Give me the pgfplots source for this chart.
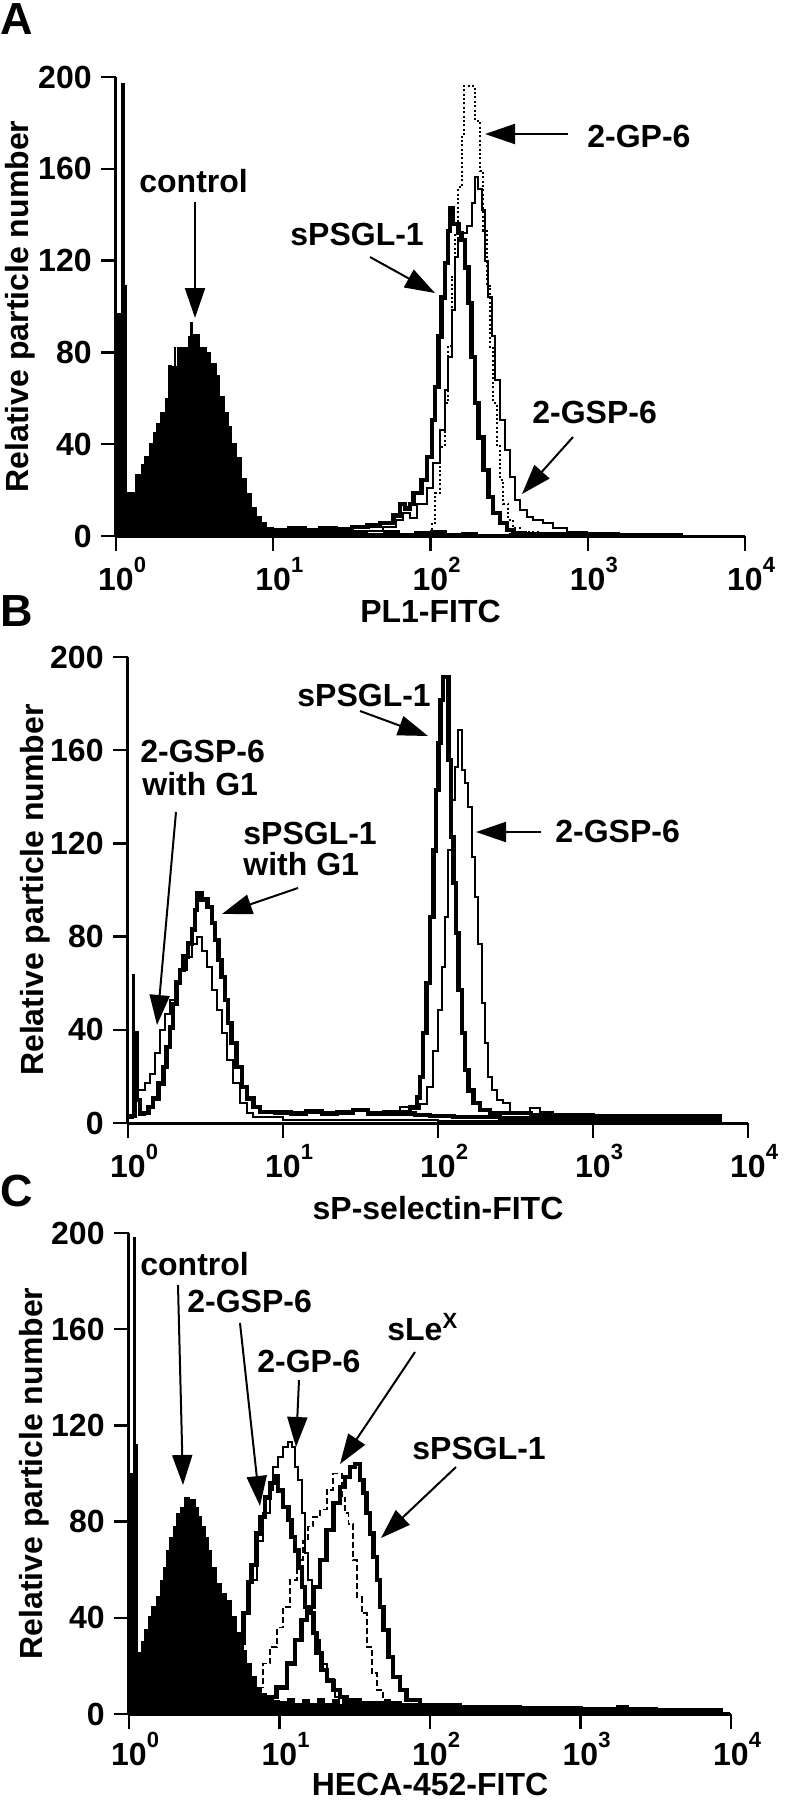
\documentclass[border=0pt]{standalone}
\usepackage{fontspec}
\setmainfont{Liberation Sans}
\usepackage{pgfplots}
\pgfplotsset{compat=1.18}
\usetikzlibrary{arrows.meta}

\newcommand\txt{\fontsize{16pt}{18pt}\selectfont\bfseries}
\newcommand\sps[1]{\rlap{\raisebox{9pt}{\fontsize{11pt}{11pt}\selectfont\bfseries #1}}}

\pgfplotsset{
  facs/.style={
    scale only axis, anchor=south west,
    xmin=0, xmax=4, ymin=0, ymax=200,
    axis lines=left, axis line style={-, line width=1.5pt},
    tick align=outside, major tick length=7.5pt,
    tick style={black, line width=1.2pt},
    xtick={0,1,2,3,4},
    xticklabels={10\sps{0},10\sps{1},10\sps{2},10\sps{3},10\sps{4}},
    ytick={0,40,80,120,160,200},
    yticklabels={0,40,80,120,160,200},
    tick label style={font=\txt, inner sep=0pt},
    xticklabel style={anchor=base, yshift=-19.5pt},
    yticklabel style={anchor=east, xshift=-4.5pt},
    label style={font=\txt},
    ylabel={Relative particle number},
    xlabel style={at={(axis description cs:0.5,0)}, anchor=base},
    ylabel style={at={(axis description cs:0,0.5)}, anchor=center},
    clip=false,
  },
  thickh/.style={const plot, black, line width=2.2pt},
  thinh/.style={const plot, black, line width=1pt},
}

\begin{document}
\begin{tikzpicture}
\useasboundingbox (0,0) rectangle (392pt,-900pt);

% ---------------- A ----------------
\begin{axis}[facs, at={(58pt,-268pt)}, width=314.5pt, height=229.5pt,
  xlabel={PL1-FITC}, xlabel style={yshift=-43pt}, ylabel style={yshift=48pt}]
% control
\addplot[const plot, fill=black, draw=black, line width=0.5pt] coordinates {
(0.000,97)(0.038,197)(0.057,109)(0.068,19)(0.121,26.6)(0.163,31)(0.184,34.5)
(0.216,40.5)(0.237,45)(0.259,49)(0.280,53.6)(0.312,60)(0.333,74.5)(0.354,74)
(0.370,82)(0.380,74)(0.390,82)(0.400,74)(0.407,82)(0.439,82)(0.460,87)(0.475,93)
(0.485,88)(0.502,87.6)(0.534,82)(0.577,80)(0.598,75)(0.640,70)(0.661,61)
(0.693,53.6)(0.714,47.5)(0.736,40.5)(0.767,34)(0.799,25)(0.831,18.7)(0.863,12.6)
(0.895,8.3)(0.927,6)(0.959,3.5)(1.000,1.7)(1.10,2.5)(1.20,1.5)(1.30,2.8)(1.40,1.8)
(1.50,2.2)(1.60,1.2)(1.70,2.5)(1.80,1.3)(1.90,1.8)(2.00,2.5)(2.10,1.2)(2.20,1.6)
(2.30,0.8)(2.50,1.0)(2.70,0.6)(3.00,0.5)(3.50,0.4)(3.99,0.3)} \closedcycle;
% sPSGL-1
\addplot[thickh] coordinates {
(0.90,2)(1.00,2.5)(1.10,3.5)(1.20,2.5)(1.30,3.5)(1.40,3)(1.50,4)(1.60,4.5)
(1.679,5.7)(1.764,9)(1.806,14)(1.838,12)(1.870,14)(1.891,18.7)(1.944,24.4)
(1.976,34.5)(2.008,50.5)(2.029,65)(2.050,87)(2.071,104)(2.092,119)(2.113,133)
(2.125,143)(2.145,136)(2.156,136)(2.177,132)(2.198,129)(2.219,117)(2.241,101.5)
(2.262,78)(2.283,58)(2.304,43)(2.336,28.8)(2.368,17)(2.399,10)(2.442,5.7)
(2.485,2.6)(2.527,1.3)(2.60,1)(2.80,0.8)(3.00,0.8)};
% 2-GSP-6
\addplot[thinh] coordinates {
(1.50,2)(1.70,4)(1.780,7)(1.827,10)(1.870,8)(1.912,14)(1.976,21)(2.018,31.8)
(2.060,46)(2.092,63.6)(2.113,78)(2.135,98.5)(2.156,121.6)(2.177,130)(2.198,132)
(2.230,135)(2.262,145)(2.283,156.5)(2.304,151)(2.326,142)(2.347,120)(2.368,104)
(2.389,87)(2.410,68)(2.442,50.5)(2.474,37.5)(2.506,25.7)(2.537,15.7)(2.569,11.3)
(2.612,8.3)(2.654,7)(2.717,5.7)(2.781,3.5)(2.866,1.7)(2.993,1.3)(3.20,0.8)(3.60,0.5)};
% 2-GP-6
\addplot[const plot, black, line width=1pt, dash pattern=on 1pt off 1.2pt] coordinates {
(1.90,0.5)(1.954,1)(2.008,5.7)(2.029,18.7)(2.060,39)(2.092,58)(2.113,83)
(2.135,113)(2.156,132)(2.177,152)(2.198,174)(2.213,196)(2.283,181)(2.294,181)
(2.315,159)(2.336,133)(2.358,109)(2.378,82)(2.399,58)(2.421,39.5)(2.442,24.4)
(2.463,14)(2.495,7)(2.527,3.5)(2.569,1.7)(2.70,0.5)};
\end{axis}

% ---------------- B ----------------
\begin{axis}[facs, at={(64pt,-561.5pt)}, width=310pt, height=233pt,
  xlabel={sP-selectin-FITC}, xlabel style={yshift=-48pt}, ylabel style={yshift=46.5pt}]
% sPSGL-1 with G1
\addplot[thickh] coordinates {
(0.000,3)(0.034,3)(0.045,38.6)(0.056,10)(0.077,4)(0.099,4.3)(0.131,7)(0.163,10.6)
(0.196,17)(0.228,24)(0.249,32.6)(0.271,41)(0.292,51)(0.314,60)(0.335,65.7)
(0.357,71.4)(0.389,77)(0.411,83)(0.432,91.4)(0.447,98.6)(0.475,95.7)(0.490,96)
(0.512,92.8)(0.540,85.8)(0.561,78.6)(0.583,70)(0.604,62.7)(0.626,52.8)(0.647,42.9)
(0.669,34.3)(0.701,24)(0.734,15.4)(0.766,10.6)(0.809,7)(0.852,4.8)(0.95,4.5)
(1.05,4)(1.15,5)(1.25,4)(1.35,4.5)(1.45,5.5)(1.55,4)(1.65,4.5)(1.75,4)(1.85,3.5)
(1.95,3)(2.10,2.5)(2.40,2)(2.80,2)(3.20,2)(3.83,2)};
% 2-GSP-6 with G1
\addplot[thinh] coordinates {
(0.000,2)(0.030,63.5)(0.040,24)(0.060,14)(0.077,14)(0.110,17)(0.142,21)(0.174,30)
(0.206,40)(0.239,47)(0.271,52.8)(0.303,61)(0.335,65.7)(0.378,71.4)(0.411,77)
(0.443,79.8)(0.475,74)(0.508,67)(0.540,57)(0.572,48.5)(0.604,38.6)(0.637,27)
(0.679,17)(0.723,8.6)(0.766,4.3)(0.809,2.6)(1.0,1.5)(1.5,1.5)(2.0,1)(3.0,1)(3.83,1)};
% sPSGL-1
\addplot[thickh] coordinates {
(1.60,4)(1.733,4.3)(1.755,4.6)(1.819,7)(1.863,11)(1.884,19.7)(1.905,38.6)
(1.927,60)(1.948,88.4)(1.970,117)(1.987,143)(2.002,163)(2.017,181.5)(2.034,191.5)
(2.067,155.8)(2.082,122.8)(2.099,103)(2.116,81.5)(2.131,57)(2.153,38.6)
(2.174,22.7)(2.196,14)(2.228,8.6)(2.271,5.6)(2.335,4.3)(2.6,3.5)(3.0,3)(3.83,3)};
% 2-GSP-6
\addplot[thinh] coordinates {
(1.70,4)(1.755,7)(1.819,6)(1.884,8)(1.927,15.4)(1.970,31)(2.002,48.5)(2.024,67)
(2.045,88.4)(2.067,117)(2.088,138.6)(2.110,152.8)(2.131,168.7)(2.153,151.5)
(2.174,146)(2.196,135.6)(2.217,114)(2.239,97)(2.260,77)(2.282,51.5)(2.303,34.3)
(2.325,19.7)(2.346,14)(2.379,10)(2.421,8.6)(2.465,4.8)(2.529,4.3)(2.594,6.3)
(2.658,4.8)(2.744,3)(2.830,4)(2.938,3.5)(3.2,2.5)(3.83,2.5)};
\end{axis}

% ---------------- C ----------------
\begin{axis}[facs, at={(64.5pt,-857pt)}, width=301pt, height=240.5pt,
  xlabel={HECA-452-FITC}, xlabel style={yshift=-40.5pt}, ylabel style={yshift=47.5pt},
  xticklabel style={yshift=1.5pt}]
% control
\addplot[const plot, fill=black, draw=black, line width=0.5pt] coordinates {
(0.000,100)(0.029,198)(0.040,112)(0.056,25.4)(0.084,30)(0.106,35)(0.128,40.4)
(0.151,44.5)(0.184,48.7)(0.206,55.7)(0.228,61)(0.250,68)(0.272,73.6)(0.294,77.8)
(0.317,83.5)(0.339,86)(0.372,90)(0.405,89)(0.439,86)(0.461,82)(0.483,77.8)
(0.505,73.6)(0.527,68)(0.550,61)(0.583,54.4)(0.616,50)(0.650,47.4)(0.683,40.4)
(0.716,33.7)(0.749,26.6)(0.782,21)(0.815,15.4)(0.848,11.2)(0.882,8.6)(0.915,7)
(0.959,5.8)(1.00,5)(1.05,6.5)(1.10,4.5)(1.15,6)(1.20,4.5)(1.25,6.5)(1.30,4.5)
(1.35,6)(1.40,4)(1.45,5.5)(1.50,4.5)(1.55,5)(1.60,4)(1.70,3.5)(1.80,3)(1.90,2.5)
(2.00,2.5)(2.10,2)(2.30,2)(2.50,1.5)(2.80,1.5)(3.00,1.2)(3.24,3.5)(3.32,1.2)
(3.60,1)(3.93,0.5)(3.99,0)} \closedcycle;
% 2-GSP-6
\addplot[thickh] coordinates {
(0.60,2)(0.68,10)(0.726,29.5)(0.760,42)(0.793,55)(0.815,62)(0.848,75)(0.870,82)
(0.904,90)(0.937,96)(0.970,98.7)(0.992,93)(1.025,86)(1.059,80.6)(1.081,73.6)
(1.103,68)(1.125,61)(1.148,52.8)(1.169,44.5)(1.203,42)(1.225,33.7)(1.247,25.4)
(1.280,18.3)(1.314,14)(1.357,10)(1.402,7)(1.446,5.8)(1.535,4.4)(1.8,3.5)(2.2,3)
(2.6,2.5)(3.0,2)(3.5,1.5)(3.93,1.5)};
% 2-GP-6
\addplot[thinh] coordinates {
(0.60,3)(0.70,15)(0.760,42)(0.804,55.7)(0.848,72)(0.893,83.5)(0.937,93)
(0.959,102.7)(0.992,107)(1.025,111)(1.059,113)(1.081,111)(1.103,102.7)(1.125,97.3)
(1.147,83.5)(1.169,67)(1.192,55.7)(1.214,42)(1.236,30.8)(1.269,21)(1.313,14)
(1.369,7)(1.424,4.4)(1.6,3)(2.0,2.5)(2.5,2)(3.0,1.5)(3.93,1)};
% sLeX
\addplot[const plot, black, line width=0.9pt, dash pattern=on 3pt off 1.5pt] coordinates {
(0.70,2)(0.80,6)(0.848,11)(0.893,21)(0.937,28)(0.981,36)(1.025,44.5)(1.070,55.7)
(1.114,64)(1.158,72)(1.192,78)(1.225,82)(1.269,85)(1.313,93)(1.358,100)(1.402,100)
(1.413,90)(1.435,83.5)(1.458,79)(1.491,64)(1.513,48.7)(1.546,42)(1.579,28)
(1.612,17)(1.646,10)(1.690,5.8)(1.734,4)(1.9,3)(2.3,2)(3.0,1.5)(3.93,1)};
% sPSGL-1
\addplot[thickh] coordinates {
(0.80,3)(0.915,7)(0.981,11)(1.048,21)(1.103,30.8)(1.147,39)(1.181,44.5)
(1.225,52.8)(1.269,64)(1.313,76.5)(1.358,87.7)(1.402,94.4)(1.435,98.6)
(1.469,102.7)(1.502,104)(1.535,97.3)(1.557,92)(1.579,83.5)(1.601,75)(1.624,65.3)
(1.646,55.7)(1.668,44.5)(1.690,35)(1.723,23.7)(1.756,15.4)(1.801,10)(1.845,5.8)
(1.934,3.7)(2.1,3)(2.5,2.5)(3.0,2)(3.5,1.5)(3.93,1)};
\end{axis}

% ---------------- labels and arrows (pixel units, y down) ----------------
\begin{scope}[x=0.5pt, y=-0.5pt,
  lab/.style={anchor=base west, inner sep=0pt, font=\txt},
  pan/.style={anchor=base west, inner sep=0pt, font=\fontsize{22.5pt}{24pt}\selectfont\bfseries},
  arr/.style={-{Triangle[length=15pt,width=10pt]}, line width=1pt}]
\node[pan] at (0,34) {A};
\node[pan] at (0,626) {B};
\node[pan] at (0,1206) {C};
% A
\node[lab] at (139,192) {control};
\draw[arr] (195,202) -- (195,318);
\node[lab] at (587,147) {2-GP-6};
\draw[arr] (568,134) -- (485,134);
\node[lab] at (290,245) {sPSGL-1};
\draw[arr] (370,257) -- (435,293);
\node[lab] at (532,423) {2-GSP-6};
\draw[arr] (573,437) -- (522,494);
% B
\node[lab] at (297,706) {sPSGL-1};
\draw[arr] (360,711) -- (428,736);
\node[lab] at (140,762) {2-GSP-6};
\node[lab] at (142,795) {with G1};
\draw[arr] (176,812) -- (157,1025);
\node[lab] at (243,844) {sPSGL-1};
\node[lab] at (243,875) {with G1};
\draw[arr] (298,888) -- (222,914);
\node[lab] at (555,842) {2-GSP-6};
\draw[arr] (541,832) -- (476,832);
% C
\node[lab] at (140,1275) {control};
\draw[arr] (178,1285) -- (183,1485);
\node[lab] at (187,1312) {2-GSP-6};
\draw[arr] (240,1323) -- (260,1506);
\node[lab] at (257,1372) {2-GP-6};
\draw[arr] (299,1380) -- (296,1447);
\node[lab] at (387,1340) {sLe\raisebox{6pt}{\fontsize{11pt}{11pt}\selectfont\bfseries X}};
\draw[arr] (415,1352) -- (340,1464);
\node[lab] at (412,1459) {sPSGL-1};
\draw[arr] (456,1467) -- (381,1538);
\end{scope}
\end{tikzpicture}
\end{document}
